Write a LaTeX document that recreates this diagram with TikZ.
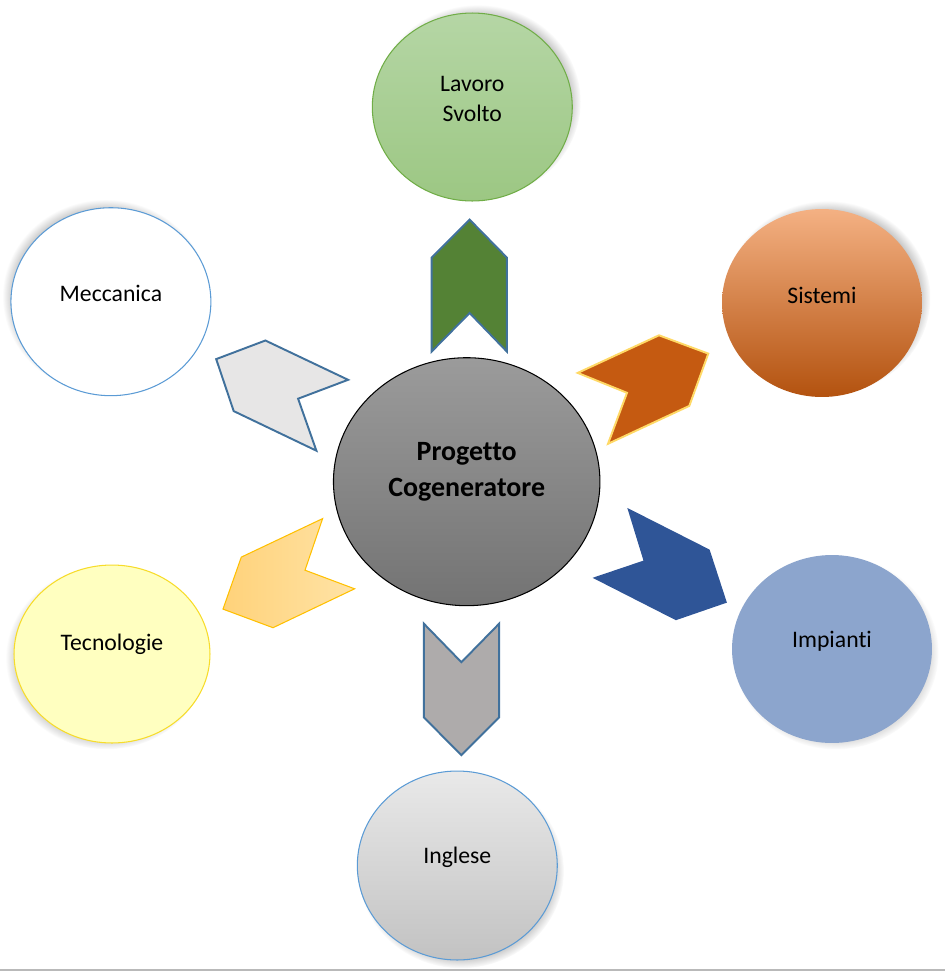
\documentclass[tikz,border=0pt]{standalone}
\usepackage{fontspec}
\setmainfont{Carlito}[Ligatures=NoCommon]
\usepackage{tikz}
\usetikzlibrary{shapes.geometric,shadows,fadings}

\definecolor{greenTop}{HTML}{B5D6A5}
\definecolor{greenBot}{HTML}{9CC783}
\definecolor{greenLine}{HTML}{70AD47}
\definecolor{orangeTop}{HTML}{F4B183}
\definecolor{orangeMid}{HTML}{ED7D31}
\definecolor{orangeBot}{HTML}{B3520F}
\definecolor{blueLine}{HTML}{5B9BD5}
\definecolor{impFill}{HTML}{8CA5CD}
\definecolor{yellowFill}{HTML}{FFFFC0}
\definecolor{yellowLine}{HTML}{F7DC2A}
\definecolor{greyTop}{HTML}{E9E9E9}
\definecolor{greyBot}{HTML}{C2C2C2}
\definecolor{centreTop}{HTML}{9B9B9B}
\definecolor{centreBot}{HTML}{737373}
\definecolor{chevLine}{HTML}{41719C}
\definecolor{chevGreen}{HTML}{548235}
\definecolor{chevLight}{HTML}{E7E6E6}
\definecolor{chevOrange}{HTML}{C55A11}
\definecolor{chevGold}{HTML}{FFD966}
\definecolor{chevYellowA}{HTML}{FFD27A}
\definecolor{chevYellowB}{HTML}{FFE3A6}
\definecolor{chevYellowLine}{HTML}{FFC000}
\definecolor{chevBlue}{HTML}{2F5597}
\definecolor{chevGrey}{HTML}{AEABAB}

\begin{document}
\begin{tikzpicture}[x=0.02cm, y=-0.02cm,
  topic/.style={ellipse, minimum width=4cm, minimum height=3.76cm, inner sep=0pt, line width=0.6pt},
  topiclabel/.style={font=\fontsize{13.5}{17.4}\selectfont, align=center, yshift=4.5pt},
  chevline/.style={line width=1.1pt, line join=miter}]
  \useasboundingbox (0,0) rectangle (945,971);
  % Centre
  \node[ellipse, minimum width=5.33cm, minimum height=4.96cm, inner sep=0pt, draw=black, line width=0.6pt,
    top color=centreTop, bottom color=centreBot,
    label={[font=\fontsize{15.9}{20.6}\selectfont\bfseries, align=center, yshift=5.5pt]center:Progetto\\Cogeneratore}]
    (progetto) at (466.7,481.7) {};
  % Topics
  \node[topic, draw=greenLine, top color=greenTop, bottom color=greenBot,
    circular drop shadow={shadow xshift=3pt, shadow yshift=3pt, shadow scale=1.03, opacity=.6},
    label={[topiclabel]center:Lavoro\\Svolto}] (lavoro) at (472.3,107) {};
  \node[topic, top color=orangeTop, middle color=orangeMid, bottom color=orangeBot,
    circular drop shadow={shadow xshift=3pt, shadow yshift=3pt, shadow scale=1.03, opacity=.6},
    label={[topiclabel]center:Sistemi}] (sistemi) at (822,303) {};
  \node[topic, draw=blueLine, fill=white,
    circular drop shadow={shadow xshift=-3pt, shadow yshift=3pt, shadow scale=1.03, opacity=.6},
    label={[topiclabel]center:Meccanica}] (meccanica) at (110.9,301.7) {};
  \node[topic, fill=impFill,
    circular drop shadow={shadow xshift=2pt, shadow yshift=-2pt, shadow scale=1.03, opacity=.45},
    label={[topiclabel]center:Impianti}] (impianti) at (832,649) {};
  \node[topic, minimum width=3.92cm, minimum height=3.56cm, draw=yellowLine, fill=yellowFill,
    circular drop shadow={shadow xshift=-3pt, shadow yshift=-2pt, shadow scale=1.03, opacity=.5},
    label={[topiclabel, yshift=1pt]center:Tecnologie}] (tecnologie) at (112,654) {};
  \node[topic, minimum height=3.78cm, draw=blueLine, top color=greyTop, bottom color=greyBot,
    circular drop shadow={shadow xshift=2pt, shadow yshift=-3pt, shadow scale=1.03, opacity=.6},
    label={[topiclabel]center:Inglese}] (inglese) at (457.3,865.5) {};
  % Chevrons
  \filldraw[chevline, fill=chevGreen, draw=chevLine] (431.7,257.5) -- (469.6,219.6) -- (506.8,257.5)
    -- (506.8,351.5) -- (469.6,313) -- (431.7,351.5) -- cycle;
  \filldraw[chevline, fill=chevOrange, draw=chevGold] (577.7,372.9) -- (659,335.3) -- (708.3,353.6)
    -- (689.3,405.9) -- (608,443.8) -- (627,392.8) -- cycle;
  \fill[chevBlue] (627.3,507.9) -- (709.6,549.6) -- (726.9,602.6) -- (675.9,620.2)
    -- (592.6,577.8) -- (643.5,560.6) -- cycle;
  \filldraw[chevline, fill=chevGrey, draw=chevLine] (423.8,623.6) -- (461.4,662.2) -- (499.2,623.6)
    -- (499.2,717.3) -- (461.4,755.2) -- (423.8,717.3) -- cycle;
  \draw[line width=0.6pt, draw=chevYellowLine, left color=chevYellowA, right color=chevYellowB]
    (322.6,518.6) -- (305,570.2) -- (354.6,588.8) -- (273,627.7) -- (223,609.1) -- (241.3,557.1) -- cycle;
  \filldraw[chevline, fill=chevLight, draw=chevLine] (216.2,359.1) -- (265.4,340.5) -- (348.1,379.8)
    -- (298.1,398.7) -- (316.4,450.7) -- (233.7,411.1) -- cycle;
  % Bottom edge
  \draw[gray!55, line width=1.2pt] (0,970) -- (945,970);
\end{tikzpicture}
\end{document}
